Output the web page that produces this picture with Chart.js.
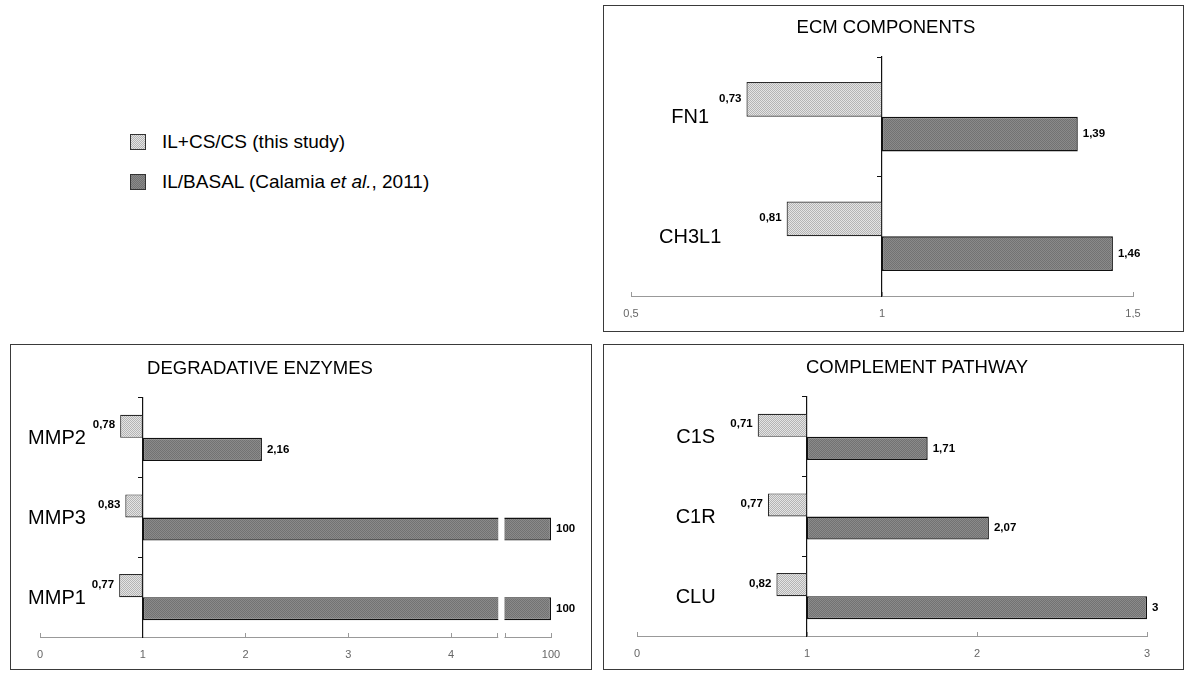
<!DOCTYPE html>
<html>
<head>
<meta charset="utf-8">
<script src="https://cdn.jsdelivr.net/npm/chart.js@4.4.0/dist/chart.umd.min.js"></script>
<style>
body { margin: 0; background: #fff; width: 1200px; height: 685px; position: relative; overflow: hidden;
       font-family: "Liberation Sans", Arial, sans-serif; }
.panel { position: absolute; border: 1.5px solid #3a3a3a; box-sizing: border-box; }
.cv { position: absolute; }
.title { position: absolute; font-size: 18.5px; color: #000; white-space: nowrap; transform: translate(-50%, -50%); }
.leg { position: absolute; left: 130px; font-size: 19px; color: #000; white-space: nowrap; line-height: 15px; }
.leg .sw { display: inline-block; width: 14px; height: 14px; border: 1px solid #333; vertical-align: top; margin-right: 16px; }
.sw.light { background: repeating-conic-gradient(#b4b4b4 0 25%, #e4e4e4 0 50%) 0 0 / 2px 2px; }
.sw.dark { background: repeating-conic-gradient(#727272 0 25%, #8a8a8a 0 50%) 0 0 / 2px 2px; }
</style>
</head>
<body>

<div class="leg" style="top:134px"><span class="sw light"></span>IL+CS/CS (this study)</div>
<div class="leg" style="top:174px"><span class="sw dark"></span>IL/BASAL (Calamia <i>et al.</i>, 2011)</div>

<div class="panel" style="left:603px;top:5px;width:581px;height:327px"></div>
<div class="panel" style="left:10px;top:344px;width:582px;height:326px"></div>
<div class="panel" style="left:603px;top:344px;width:581px;height:326px"></div>

<div class="cv" style="left:603px;top:5px"><canvas id="ecm" width="581" height="327"></canvas></div>
<div class="cv" style="left:10px;top:344px"><canvas id="deg" width="582" height="326"></canvas></div>
<div class="cv" style="left:603px;top:344px"><canvas id="comp" width="581" height="326"></canvas></div>

<div class="title" style="left:886px;top:27px">ECM COMPONENTS</div>
<div class="title" style="left:260px;top:368px">DEGRADATIVE ENZYMES</div>
<div class="title" style="left:917px;top:367px">COMPLEMENT PATHWAY</div>

<script>
// ECM components
const ecmLabels = ['FN1', 'CH3L1'];
const ecmStudy = [0.73, 0.81];
const ecmBasal = [1.39, 1.46];
const ecmTicks = [0.5, 1, 1.5];

// degradative enzymes (axis broken between 4 and 100)
const degLabels = ['MMP2', 'MMP3', 'MMP1'];
const degStudy = [0.78, 0.83, 0.77];
const degBasal = [2.16, 100, 100];
const degTicks = [0, 1, 2, 3, 4, 100];

// complement pathway
const compLabels = ['C1S', 'C1R', 'CLU'];
const compStudy = [0.71, 0.77, 0.82];
const compBasal = [1.71, 2.07, 3];
const compTicks = [0, 1, 2, 3];

const FONT = '"Liberation Sans", Arial, sans-serif';

// broken axis: values past the gap are shifted down next to it
const degBreak = { from: 4.45, to: 4.53, shift: 100 - 4.973 };
const noBreak = v => v;
const degAxis = v => (v > 50 ? v - degBreak.shift : v);
const degBack = v => (v > degBreak.to ? Math.round(v + degBreak.shift) : v);

function fmt(v) {
    return String(v).replace('.', ',');
}

function pattern(c1, c2) {
    const p = document.createElement('canvas');
    p.width = p.height = 2;
    const g = p.getContext('2d');
    g.fillStyle = c1;
    g.fillRect(0, 0, 2, 2);
    g.fillStyle = c2;
    g.fillRect(0, 0, 1, 1);
    g.fillRect(1, 1, 1, 1);
    return g.createPattern(p, 'repeat');
}

const lightFill = pattern('#e4e4e4', '#b4b4b4');
const darkFill = pattern('#8a8a8a', '#727272');

// category names and value labels next to the bars
const barLabels = {
    id: 'barLabels',
    afterDatasetsDraw(chart, args, opts) {
        const { ctx, scales: { x, y } } = chart;
        ctx.save();
        ctx.fillStyle = '#000';
        ctx.textBaseline = 'middle';
        ctx.textAlign = 'center';
        ctx.font = '20px ' + FONT;
        chart.data.labels.forEach((lab, i) => {
            ctx.fillText(lab, x.getPixelForValue(opts.nameAt), y.getPixelForValue(i) + 1);
        });
        ctx.font = 'bold 11.5px ' + FONT;
        chart.data.datasets.forEach((ds, di) => {
            chart.getDatasetMeta(di).data.forEach((bar, i) => {
                const v = ds.values[i];
                const px = x.getPixelForValue(opts.toAxis(v));
                if (v < 1) {
                    ctx.textAlign = 'right';
                    ctx.fillText(fmt(v), px - 5, bar.y - 1);
                } else {
                    ctx.textAlign = 'left';
                    ctx.fillText(fmt(v), px + 5, bar.y);
                }
            });
        });
        ctx.restore();
    }
};

// white gap for the broken axis
const axisBreak = {
    id: 'axisBreak',
    afterDraw(chart, args, opts) {
        if (!opts.on) return;
        const { ctx, chartArea, scales: { x } } = chart;
        const a = x.getPixelForValue(degBreak.from);
        const b = x.getPixelForValue(degBreak.to);
        ctx.save();
        ctx.fillStyle = '#fff';
        ctx.fillRect(a + 1, chartArea.top, b - a - 2, x.top - chartArea.top + 2);
        ctx.restore();
    }
};

function makeChart(id, labels, study, basal, ticks, o) {
    const toAxis = o.toAxis || noBreak;
    const fromAxis = o.fromAxis || noBreak;
    const tickVals = ticks.map(toAxis).concat(o.extraTicks || []);
    new Chart(document.getElementById(id), {
        type: 'bar',
        data: {
            labels: labels,
            datasets: [
                {
                    label: 'IL+CS/CS (this study)',
                    values: study,
                    data: study.map(v => [1, toAxis(v)]),
                    backgroundColor: lightFill,
                    borderColor: '#2a2a2a',
                    borderWidth: 1.2,
                    borderSkipped: false
                },
                {
                    label: 'IL/BASAL (Calamia et al., 2011)',
                    values: basal,
                    data: basal.map(v => [1, toAxis(v)]),
                    backgroundColor: darkFill,
                    borderColor: '#111',
                    borderWidth: 1.4,
                    borderSkipped: false
                }
            ]
        },
        options: {
            indexAxis: 'y',
            responsive: false,
            animation: false,
            categoryPercentage: 0.58,
            barPercentage: 1,
            layout: { padding: o.padding },
            scales: {
                x: {
                    type: 'linear',
                    min: o.min,
                    max: o.max,
                    afterBuildTicks: s => { s.ticks = tickVals.map(v => ({ value: v })); },
                    afterFit: s => { s.height = 22; },
                    grid: { drawOnChartArea: false, color: '#999', tickLength: -4 },
                    border: { color: '#999', width: 1 },
                    ticks: {
                        padding: 15,
                        autoSkip: false,
                        maxRotation: 0,
                        color: '#666',
                        font: { family: FONT, size: 11 },
                        callback: v => ((o.extraTicks || []).includes(v) ? '' : fmt(fromAxis(v)))
                    }
                },
                y: {
                    position: { x: 1 },
                    grid: { drawOnChartArea: false, color: '#111', tickLength: 4 },
                    border: { color: '#111', width: 1.2 },
                    ticks: { display: false }
                }
            },
            plugins: {
                legend: { display: false },
                tooltip: { enabled: false },
                barLabels: { nameAt: o.nameAt, toAxis: toAxis },
                axisBreak: { on: !!o.broken }
            }
        },
        plugins: [barLabels, axisBreak]
    });
}

makeChart('ecm', ecmLabels, ecmStudy, ecmBasal, ecmTicks, {
    min: 0.5, max: 1.5, nameAt: 0.618,
    padding: { left: 28, right: 51, top: 52, bottom: 14 }
});

makeChart('deg', degLabels, degStudy, degBasal, degTicks, {
    min: 0, max: degAxis(100), nameAt: 0.165,
    toAxis: degAxis, fromAxis: degBack, broken: true,
    extraTicks: [degBreak.from, degBreak.to],
    padding: { left: 30, right: 41, top: 54, bottom: 11 }
});

makeChart('comp', compLabels, compStudy, compBasal, compTicks, {
    min: 0, max: 3, nameAt: 0.345,
    padding: { left: 34, right: 37, top: 53, bottom: 12 }
});
</script>
</body>
</html>
